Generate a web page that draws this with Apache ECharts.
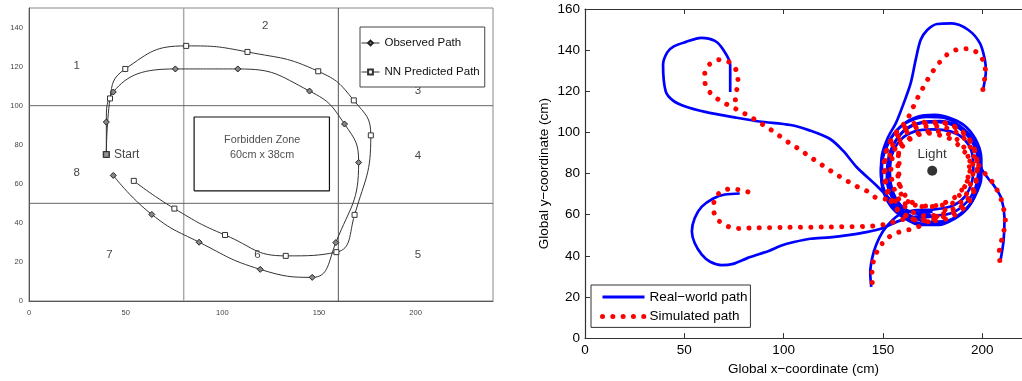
<!DOCTYPE html>
<html><head><meta charset="utf-8">
<script src="https://cdn.jsdelivr.net/npm/echarts@6/dist/echarts.min.js"></script>
<style>html,body{margin:0;padding:0;background:#fff}#c{width:1022px;height:381px}</style>
</head><body><div id="c"></div>
<script>
// ---------------- LEFT PANEL DATA ----------------
const leftXTicks = [0, 50, 100, 150, 200];
const leftYTicks = [0, 20, 40, 60, 80, 100, 120, 140];
const observedPath = [[40,75],[40,91.6],[43.6,107],[75.7,118.8],[108,118.8],[145.1,107.5],[163.2,90.6],[170.5,70.9],[158.7,29.9],[146.5,12.1],[119.6,16.2],[88,30.1],[63.5,44.3],[43.6,64.3]];
const nnPath = [[40,75],[41.9,103.7],[49.8,118.8],[81.3,130.6],[113,127.5],[149.6,117.6],[168,102.7],[176.8,84.8],[168.4,44.1],[159,25],[132.8,23.1],[101.4,33.8],[75.2,47.3],[54.2,61.5]];
const zoneV80 = [[80,0],[80,150]];
const zoneV160 = [[160,0],[160,150]];
const zoneH100 = [[0,100],[240,100]];
const zoneH50 = [[0,50],[240,50]];
const forbiddenZone = [[85.4,56.4],[155.4,56.4],[155.4,94.2],[85.4,94.2],[85.4,56.4]];
const zoneLabels = [[24.7,120.5,'1'],[122.2,140.7,'2'],[201.2,107.7,'3'],[201.2,74.4,'4'],[201.2,23.6,'5'],[118.2,23.6,'6'],[41.6,23.6,'7'],[24.7,65.8,'8']];
const forbiddenText = [[120.6,82.2,'Forbidden Zone'],[120.6,74.5,'60cm x 38cm']];
const startPoint = [[40,75,'Start']];

// ---------------- RIGHT PANEL DATA ----------------
const rightXTicks = [0, 50, 100, 150, 200];
const rightYTicks = [0, 20, 40, 60, 80, 100, 120, 140, 160];
const lightPos = [[174.8,81.4]];
const realA = [[73.1,119.6],[73.1,132.9],[69.6,140.2],[65.4,144.5],[58.5,146],[50.5,143.9],[44.7,141.8],[41.4,138.9],[39.3,132.9],[40.6,120.1],[44.2,115.6],[50.5,112.6],[60.5,110],[75.4,107.3],[87.8,105.3],[103.5,103.6],[113,101],[123.4,96.8],[130,91],[136.7,83.2],[146.6,74.3],[156.6,64.7],[163,60],[172,56.5],[182,57],[190,61],[196,68.5],[199.5,78],[199.5,87],[197.5,95],[192,102.5],[185,106.5],[176,108.5],[167,107.5],[159,103],[153,95.5],[149.5,86],[149.5,76],[153,67],[159,61],[166,58.5],[175,59]];
const realB = [[200.5,121.2],[201.8,129.7],[201.3,135.4],[198.8,143.4],[193,149.8],[184.7,153],[177.3,152.7],[172.3,149.8],[169,145],[166.5,135.4],[164,124.1],[160,113],[156.5,104.5],[152.5,97.5],[149.5,89],[149,80],[151,71],[155.5,63.5],[162,58.5],[170,55.5],[180,56],[188.5,60],[195,66.5],[198.5,76],[199,85],[197,93],[193,99.5],[187,103.5],[179,105.5],[170,105],[162,102],[156.5,96],[153,88],[152.5,79],[154.5,70],[159,64],[166,61],[175,61.5]];
const realC = [[209.1,37.4],[210.7,47.1],[211.2,58.3],[209.6,67.9],[206.3,73.6],[203,77.6],[199.6,82.4],[198,90],[194.5,97.5],[189,103],[181,107],[172,107.5],[163.5,105.5],[156.5,100.5],[151.5,92],[149,82],[150,72],[154,64],[160.5,58.5],[169,55],[178,55],[186,58],[192.5,63],[196.5,70.5],[198,79]];
const realD = [[144.1,24.9],[143.6,31.8],[144.6,39],[146.6,45.4],[150,51.9],[154.1,56.7],[158.2,59.9],[165,62],[175,62.5],[184,64],[190.5,68],[194.5,75],[195.5,83],[194.5,91],[190.5,97],[184,100.5],[175,101.5],[166,100.5],[159,96.5],[154.5,89],[153.5,80],[155,71],[159,64.5],[165,61],[174,60]];
const realE = [[77.9,70.3],[70.4,69.8],[64.6,67.9],[58.8,63.9],[55.2,58.3],[53.8,51.9],[55.2,46.2],[58.8,40.6],[63,37.1],[68.7,35.5],[74.6,36.1],[82,39],[87.8,40.9],[92.8,42.5],[98.6,44.9],[105.2,46.7],[113.5,48.3],[123.4,49],[133.4,50.2],[141.7,51.5],[150,53.5],[158.2,57],[166,59],[176,59.5],[185,61],[192,66],[196.5,73],[198,82],[197,91],[193,98],[186.5,103],[178,105],[169,104.5],[161,101],[155.5,94.5],[152.5,86],[152,77],[154.5,68.5],[159.5,62],[166,58]];
const simA = [[75.7,115.9],[76.2,119.6],[77,124.4],[76.5,129.4],[73.2,133.8],[67.9,135.4],[63,133.4],[60.3,128.8],[60.5,123.5],[63.3,119],[67.8,115.6],[72.9,112.9],[78.2,110.3],[83.2,107.6],[88.1,104.7],[93.1,101.6],[97.8,98.4],[102.7,95],[107.5,92],[112.3,88.8],[117.1,85.6],[121.9,82.5],[126.7,79.5],[131.7,76.6],[136.7,73.8],[141.7,71.6],[146.3,68.4],[152.4,67.4],[157.4,66.3],[161.5,65.2],[165.7,64.7],[169.8,64.2],[174.8,64.2],[178.9,65],[182.3,66.3],[185.5,67.9],[188.9,71.1],[191.4,74.3],[193,77.6],[193.8,81.6],[193.8,85.6],[192.2,89.1],[189.7,92],[186.4,95.2],[182.3,97.6],[177.3,98.9],[172.3,99.6],[167.3,98.7],[162.4,96],[158.2,93.6],[157.9,90.4],[158.2,86.4],[157.9,82],[158.2,77.6],[158.2,73.6],[159,70.3],[161.5,67.1],[165.7,65]];
const simB = [[200.3,120.9],[201,124.8],[201.6,129.4],[200.8,134.2],[197.7,138.6],[192.8,140.7],[187.4,140.3],[182.6,138.1],[178.6,134.2],[175.1,129.7],[172,124.9],[169.3,120.1],[166.5,115],[164,109.7],[161.5,105.2],[157.5,101],[154,96],[151.5,90],[151,83],[151.5,76],[153.5,69],[157,63],[162,59],[169,57],[177,57],[184.5,59],[190.5,63],[195,69],[197,76.5],[197.5,84],[196,91.5],[192.5,97.5],[187,102],[180,104.5],[172,104.5],[164.5,103],[159,99.5],[155,94],[153,87]];
const simC = [[208.8,37.7],[208.6,42.2],[209.6,47.1],[210.9,52.2],[211.6,57.5],[210.7,63.1],[209.2,68.3],[206.8,73.1],[203.8,77.6],[199.5,82],[196.5,87],[194.5,92],[190.5,97.5],[185,101],[178,103],[170,103],[163,100.5],[158,95.5],[155,89],[154,81],[155.5,73],[159,66],[164.5,61.5],[171,59.5],[178.5,60],[185,62.5],[190.5,67.5],[194,74.5],[195.5,82],[194.5,89]];
const simD = [[144.6,27],[144.5,31.8],[145.3,37.7],[147.8,43.5],[151.9,48.3],[157.1,51.2],[162.7,52.6],[168.1,54.3],[173.1,56.7],[177.8,59.6],[182.3,63.1],[186,66.6],[190,71.5],[192.5,77],[193.5,83],[192.5,89.5],[189.5,94.5],[184.5,98.5],[178,100.5],[171,100.5],[164.5,98],[160,93.5],[157.5,87],[157.5,79.5],[159.5,72],[164,66.5],[170,64],[177,64],[183,66]];
const simE = [[82,71.1],[78.4,71.9],[73.9,72.6],[68.9,71.4],[65.1,67.4],[64.8,62],[67.1,57.3],[71.7,54.4],[77.2,53.3],[82.9,53.5],[100,53.8],[120,54],[140.8,54.3],[146.1,54.6],[151.9,55.4],[157,57],[163,58],[170,57.5],[179,58.5],[187,62],[193,68],[196.5,75.5],[197.5,84],[196,92],[192,98.5],[186,103],[178.5,105],[170,105],[162,103],[156,98.5],[152,92],[150.5,84],[151,76],[153,68.5],[157,62.5],[163,59]];

// ---------------- CHART ----------------
const FONT = '"Liberation Sans", Arial, Helvetica, sans-serif';
const REAL = 'Real\u2212world path';
const SIM = 'Simulated path';
const BLUE = '#0000ff';
const RED = '#ff0000';
const DOTS = [0.01, 10.3];

const chart = echarts.init(document.getElementById('c'), null, {renderer: 'canvas'});

function zoneLine(data, color, width) {
  return {type: 'line', xAxisIndex: 0, yAxisIndex: 0, data: data, symbol: 'none', silent: true,
    lineStyle: {color: color, width: width}, z: 1};
}
function realSeries(data) {
  return {type: 'line', name: REAL, xAxisIndex: 1, yAxisIndex: 1, data: data, symbol: 'none', smooth: 0.3,
    lineStyle: {color: BLUE, width: 2.7}, itemStyle: {color: BLUE}, z: 3};
}
function simSeries(data) {
  return {type: 'line', name: SIM, xAxisIndex: 1, yAxisIndex: 1, data: data, symbol: 'none', smooth: 0.3,
    lineStyle: {color: RED, width: 5, type: DOTS, cap: 'round'}, itemStyle: {color: RED}, z: 4};
}

const option = {
  animation: false,
  backgroundColor: '#fff',
  textStyle: {fontFamily: FONT},
  grid: [
    {left: 29, top: 8, width: 464, height: 293, show: true, borderColor: '#888', borderWidth: 1, backgroundColor: 'transparent'},
    {left: 585, top: 9, width: 442.64, height: 332}
  ],
  xAxis: [
    {gridIndex: 0, type: 'value', min: 0, max: 240, interval: 50,
      axisLine: {show: true, onZero: false, lineStyle: {color: '#555', width: 1}},
      axisTick: {show: false}, splitLine: {show: false},
      axisLabel: {fontSize: 7.6, color: '#444', margin: 8, showMaxLabel: false, fontFamily: FONT,
        formatter: v => leftXTicks.includes(v) ? String(v) : ''}},
    {gridIndex: 1, type: 'value', min: 0, max: 220, interval: 50, position: 'bottom',
      axisLine: {show: true, onZero: false, lineStyle: {color: '#333', width: 1.2}},
      axisTick: {show: true, inside: true, length: 5, lineStyle: {color: '#333', width: 1}},
      splitLine: {show: false},
      axisLabel: {fontSize: 13.5, color: '#000', margin: 5, showMaxLabel: false, fontFamily: FONT,
        formatter: v => rightXTicks.includes(v) ? String(v) : ''},
      name: 'Global x\u2212coordinate (cm)', nameLocation: 'middle', nameGap: 22,
      nameTextStyle: {fontSize: 13.5, color: '#000', fontFamily: FONT}},
    {gridIndex: 1, type: 'value', min: 0, max: 220, interval: 50, position: 'top',
      axisLine: {show: true, onZero: false, lineStyle: {color: '#333', width: 1.2}},
      axisTick: {show: true, inside: true, length: 5, lineStyle: {color: '#333', width: 1}},
      splitLine: {show: false}, axisLabel: {show: false}}
  ],
  yAxis: [
    {gridIndex: 0, type: 'value', min: 0, max: 150, interval: 20,
      axisLine: {show: true, onZero: false, lineStyle: {color: '#555', width: 1}},
      axisTick: {show: false}, splitLine: {show: false},
      axisLabel: {fontSize: 7.6, color: '#444', margin: 6, showMaxLabel: false, fontFamily: FONT,
        formatter: v => leftYTicks.includes(v) ? String(v) : ''}},
    {gridIndex: 1, type: 'value', min: 0, max: 160, interval: 20,
      axisLine: {show: true, onZero: false, lineStyle: {color: '#333', width: 1.2}},
      axisTick: {show: true, inside: true, length: 5, lineStyle: {color: '#333', width: 1}},
      splitLine: {show: false},
      axisLabel: {fontSize: 13.5, color: '#000', margin: 5, fontFamily: FONT,
        formatter: v => rightYTicks.includes(v) ? String(v) : ''},
      name: 'Global y\u2212coordinate (cm)', nameLocation: 'middle', nameGap: 34, nameRotate: 90,
      nameTextStyle: {fontSize: 13.5, color: '#000', fontFamily: FONT}}
  ],
  legend: [
    {data: [
        {name: 'Observed Path', lineStyle: {width: 1, color: '#333'}},
        {name: 'NN Predicted Path', lineStyle: {width: 1, color: '#333'}}],
      orient: 'vertical', left: 360, top: 27,
      itemWidth: 18, itemHeight: 6, itemGap: 17, padding: [10, 5, 9, 1],
      borderColor: '#444', borderWidth: 1, backgroundColor: '#fff', selectedMode: false,
      textStyle: {fontSize: 11.5, color: '#111', fontFamily: FONT}},
    {data: [
        {name: REAL, lineStyle: {width: 3.2}, itemStyle: {opacity: 0}},
        {name: SIM, lineStyle: {width: 5, type: DOTS, cap: 'round'}, itemStyle: {opacity: 0}}],
      orient: 'vertical', left: 591, top: 285,
      itemWidth: 42, itemHeight: 14, itemGap: 5.4, padding: [5, 3, 4, 9],
      borderColor: '#333', borderWidth: 1, backgroundColor: '#fff', selectedMode: false,
      textStyle: {fontSize: 13.5, color: '#000', fontFamily: FONT}}
  ],
  series: [
    zoneLine(zoneV80, '#aaa', 1.5),
    zoneLine(zoneV160, '#555', 1),
    zoneLine(zoneH100, '#666', 1),
    zoneLine(zoneH50, '#666', 1),
    {type: 'line', xAxisIndex: 0, yAxisIndex: 0, data: forbiddenZone, symbol: 'none', silent: true,
      lineStyle: {color: '#111', width: 1.2}, z: 2},
    {type: 'scatter', xAxisIndex: 0, yAxisIndex: 0, data: zoneLabels, symbolSize: 0, silent: true,
      label: {show: true, position: 'inside', formatter: p => p.value[2], fontSize: 11.5, color: '#111', fontFamily: FONT}},
    {type: 'scatter', xAxisIndex: 0, yAxisIndex: 0, data: forbiddenText, symbolSize: 0, silent: true,
      label: {show: true, position: 'inside', formatter: p => p.value[2], fontSize: 10.8, color: '#222', fontFamily: FONT}},
    {type: 'line', name: 'Observed Path', xAxisIndex: 0, yAxisIndex: 0, data: observedPath, smooth: 0.5,
      symbol: 'diamond', symbolSize: 6, showAllSymbol: true,
      lineStyle: {color: '#333', width: 1}, itemStyle: {color: '#888', borderColor: '#222', borderWidth: 1}, z: 5},
    {type: 'line', name: 'NN Predicted Path', xAxisIndex: 0, yAxisIndex: 0, data: nnPath, smooth: 0.5,
      symbol: 'rect', symbolSize: 5, showAllSymbol: true,
      lineStyle: {color: '#333', width: 1}, itemStyle: {color: '#fff', borderColor: '#333', borderWidth: 1}, z: 5},
    {type: 'scatter', xAxisIndex: 0, yAxisIndex: 0, data: startPoint, symbol: 'rect', symbolSize: 6, silent: true,
      itemStyle: {color: '#777', borderColor: '#222', borderWidth: 1.2}, z: 6,
      label: {show: true, position: 'right', distance: 4, formatter: p => p.value[2], fontSize: 12, color: '#111', fontFamily: FONT}},
    realSeries(realA), realSeries(realB), realSeries(realC), realSeries(realD), realSeries(realE),
    simSeries(simA), simSeries(simB), simSeries(simC), simSeries(simD), simSeries(simE),
    {type: 'scatter', xAxisIndex: 1, yAxisIndex: 1, data: lightPos, symbolSize: 10, silent: true,
      itemStyle: {color: '#000'}, z: 6,
      label: {show: true, position: 'top', distance: 4, formatter: 'Light', fontSize: 13.5, color: '#000', fontFamily: FONT}}
  ]
};
chart.setOption(option);
</script></body></html>
